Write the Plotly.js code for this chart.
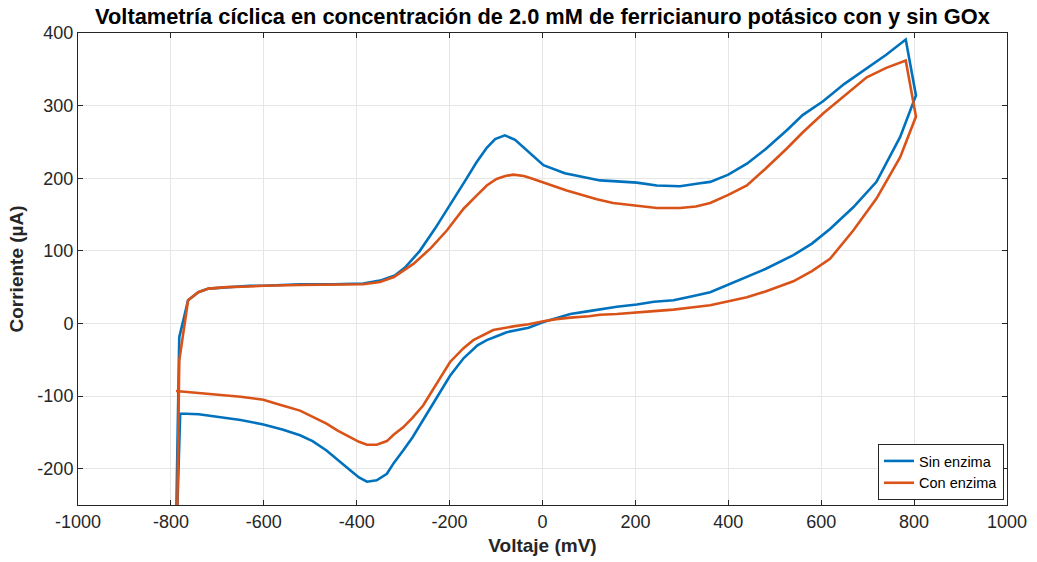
<!DOCTYPE html>
<html><head><meta charset="utf-8">
<script src="https://cdn.plot.ly/plotly-3.0.1.min.js"></script>
<style>html,body{margin:0;padding:0;background:#fff}#chart{width:1037px;height:562px}</style>
</head><body><div id="chart"></div>
<script>
// Sin enzima (mV, µA)
const sinV = [-792,-782,-763,-741,-719,-680,-630,-600,-522,-450,-386,-350,-318,-296,-264,-231,-199,-167,-142,-120,-102,-81,-59,-40,-20,2,48,81,124,152,203,246,296,339,361,400,440,480,526,560,604,650,698,740,782,804,
  770,719,669,619,580,540,480,440,400,361,320,282,240,203,160,124,100,60,30,2,-30,-77,-100,-120,-140,-170,-199,-230,-257,-280,-300,-320,-335,-357,-378,-395,-414,-440,-465,-495,-522,-560,-601,-650,-701,-740,-780,-793];
const sinI = [-400,-19,32,43,48,50,52,52,54,54,55,59,66,77,100,131,163,196,222,242,254,259,253,242,230,218,207,203,197,196,194,190,189,193,195,205,220,240,266,287,306,330,351,370,391,314,
  257,195,160,130,110,94,75,64,53,43,37,32,30,26,23,19,17,13,7,2,-6,-12,-18,-23,-30,-48,-72,-105,-134,-157,-175,-192,-207,-216,-218,-212,-202,-188,-175,-162,-154,-146,-139,-133,-128,-125,-124,-400];
// Con enzima (mV, µA)
const conV = [-789,-782,-763,-741,-719,-680,-630,-600,-522,-450,-386,-350,-320,-278,-240,-206,-170,-142,-120,-99,-80,-63,-40,-20,20,52,80,117,152,188,246,296,330,361,400,440,480,526,560,604,650,698,740,782,804,
  770,719,669,619,580,540,480,440,400,361,320,282,240,203,160,124,100,60,30,2,-30,-63,-106,-149,-170,-199,-230,-257,-280,-300,-320,-335,-357,-378,-395,-414,-440,-465,-495,-522,-560,-601,-650,-701,-740,-780,-789];
const conI = [-400,-51,32,43,48,50,51,52,53,53,54,57,64,82,104,128,158,176,190,199,203,205,203,199,190,183,178,171,166,163,159,159,161,166,177,190,213,241,263,289,314,339,352,362,285,
  229,172,128,89,72,58,44,36,30,25,22,19,17,15,13,12,10,8,6,3,-1,-4,-9,-23,-34,-53,-85,-113,-130,-143,-153,-162,-167,-167,-163,-157,-148,-138,-129,-120,-113,-105,-101,-98,-96,-94,-93,-400];

const xTicks = [-1000,-800,-600,-400,-200,0,200,400,600,800,1000];
const yTicks = [-200,-100,0,100,200,300,400];
const seriesNames = ['Sin enzima','Con enzima'];

const FONT = 'Liberation Sans, Arial, Helvetica, sans-serif';
const data = [
  {x: sinV, y: sinI, mode:'lines', name: seriesNames[0], line:{color:'#0072BD', width:2.6}},
  {x: conV, y: conI, mode:'lines', name: seriesNames[1], line:{color:'#D95319', width:2.6}}
];
const axisCommon = {showgrid:true, gridcolor:'#e6e6e6', gridwidth:1, zeroline:false, showline:true, mirror:'ticks',
  linecolor:'#262626', linewidth:1, ticks:'inside', ticklen:5, tickcolor:'#262626',
  tickfont:{family:FONT, size:18, color:'#262626'}};
const layout = {
  width:1037, height:562, paper_bgcolor:'#fff', plot_bgcolor:'#fff',
  margin:{l:78, r:30, t:33, b:57},
  title:{text:'<b>Voltametría cíclica en concentración de 2.0 mM de ferricianuro potásico con y sin GOx</b>',
    font:{family:FONT, size:21.8, color:'#000'}, xref:'paper', x:0.5, xanchor:'center', y:0.97, yanchor:'middle'},
  xaxis: Object.assign({}, axisCommon, {range:[-1000,1000], tickvals:xTicks, ticktext:xTicks.map(String),
    title:{text:'<b>Voltaje (mV)</b>', font:{family:FONT, size:19, color:'#262626'}, standoff:8}}),
  yaxis: Object.assign({}, axisCommon, {range:[-250,400], tickvals:yTicks, ticktext:yTicks.map(String),
    title:{text:'<b>Corriente (µA)</b>', font:{family:FONT, size:19, color:'#262626'}, standoff:8}}),
  legend:{x:0.9968, xanchor:'right', y:0.0106, yanchor:'bottom', bgcolor:'#fff', bordercolor:'#262626', borderwidth:1,
    font:{family:FONT, size:14.5, color:'#000'}, tracegroupgap:0},
  showlegend:true
};
Plotly.newPlot('chart', data, layout, {displayModeBar:false, staticPlot:true});
</script></body></html>
